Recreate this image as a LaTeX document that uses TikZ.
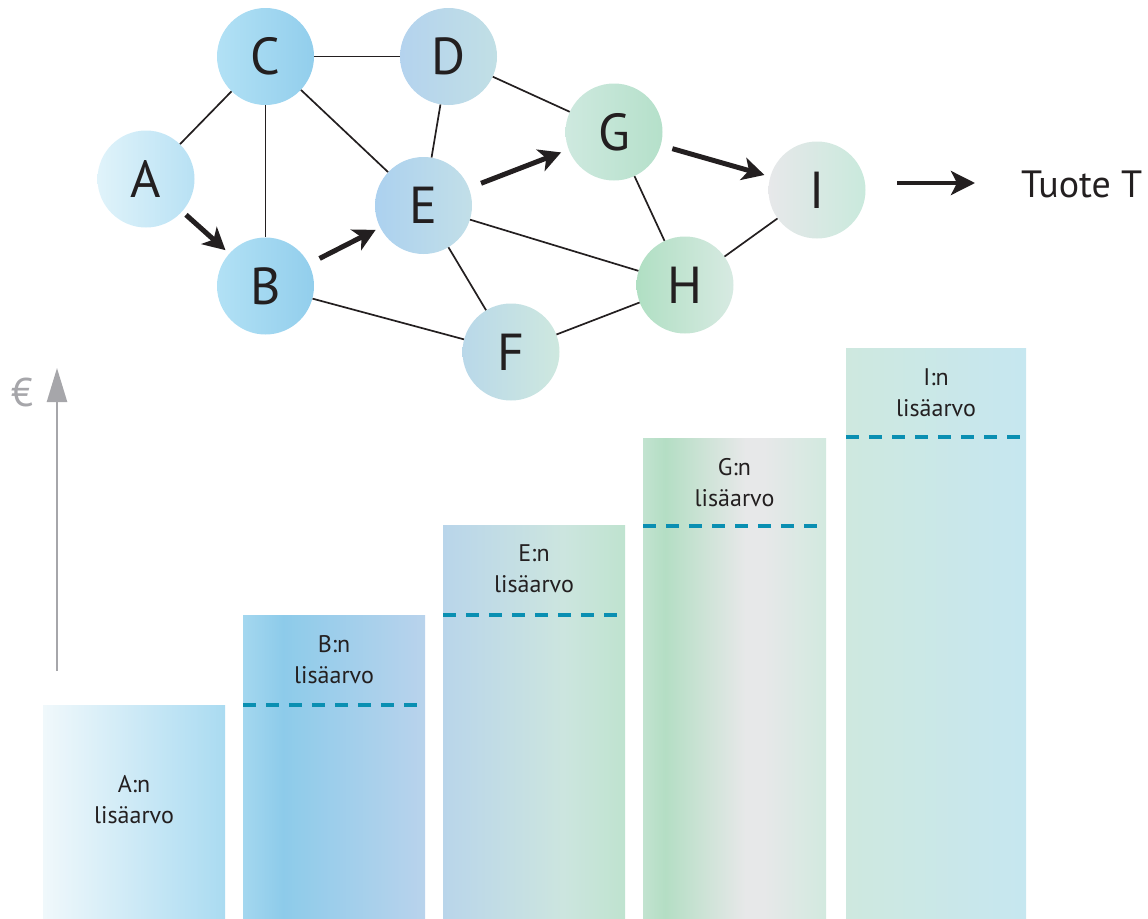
\documentclass[tikz,border=0pt]{standalone}
\usepackage{fontspec}
\setmainfont{PT Sans}
\usetikzlibrary{arrows.meta}

% palette
\definecolor{ink}{HTML}{231F20}
\definecolor{axisgray}{HTML}{A6A6AA}
\definecolor{dashblue}{HTML}{0A8FB2}

% node fills (left / right)
\definecolor{nAl}{HTML}{E0F3FA}\definecolor{nAr}{HTML}{B8E1F4}
\definecolor{nBl}{HTML}{B2E1F5}\definecolor{nBr}{HTML}{92CEEC}
\definecolor{nDl}{HTML}{B4D3EE}\definecolor{nDr}{HTML}{C1DFE5}
\definecolor{nEl}{HTML}{ACD1EF}\definecolor{nEr}{HTML}{C2DFE8}
\definecolor{nFl}{HTML}{B9D8E9}\definecolor{nFr}{HTML}{CEE8DF}
\definecolor{nGl}{HTML}{CEE9DF}\definecolor{nGr}{HTML}{B5E0CA}
\definecolor{nHl}{HTML}{B0DFC3}\definecolor{nHr}{HTML}{D7EAE2}
\definecolor{nIl}{HTML}{E7E8EA}\definecolor{nIr}{HTML}{C9E9DC}

% bar fills
\definecolor{bAa}{HTML}{F0F8FB}\definecolor{bAb}{HTML}{AADBF1}
\definecolor{bBa}{HTML}{A4D7EF}\definecolor{bBb}{HTML}{8DCBEA}\definecolor{bBc}{HTML}{B9D3EC}
\definecolor{bEa}{HTML}{B9D5EA}\definecolor{bEb}{HTML}{CCE5DF}\definecolor{bEc}{HTML}{BFE3CF}
\definecolor{bGa}{HTML}{C2E3D0}\definecolor{bGb}{HTML}{B4DEC4}\definecolor{bGc}{HTML}{E7E8E9}\definecolor{bGd}{HTML}{D2E9DF}
\definecolor{bIa}{HTML}{CEE8DF}\definecolor{bIb}{HTML}{C6E7F0}

% horizontal shadings: 25bp = left edge, 75bp = right edge
\pgfdeclarehorizontalshading{barA}{100bp}{color(0bp)=(bAa); color(25bp)=(bAa); color(75bp)=(bAb); color(100bp)=(bAb)}
\pgfdeclarehorizontalshading{barB}{100bp}{color(0bp)=(bBa); color(25bp)=(bBa); color(36bp)=(bBb); color(75bp)=(bBc); color(100bp)=(bBc)}
\pgfdeclarehorizontalshading{barE}{100bp}{color(0bp)=(bEa); color(25bp)=(bEa); color(58bp)=(bEb); color(75bp)=(bEc); color(100bp)=(bEc)}
\pgfdeclarehorizontalshading{barG}{100bp}{color(0bp)=(bGa); color(25bp)=(bGa); color(31bp)=(bGb); color(53bp)=(bGc); color(58bp)=(bGc); color(75bp)=(bGd); color(100bp)=(bGd)}
\pgfdeclarehorizontalshading{barI}{100bp}{color(0bp)=(bIa); color(25bp)=(bIa); color(75bp)=(bIb); color(100bp)=(bIb)}

\tikzset{
  gnode/.style={circle, minimum size=97pt, inner sep=0pt, text=ink,
    font=\fontsize{52}{52}\selectfont},
  edge/.style={draw=ink, line width=1.7pt},
  flow/.style={draw=ink, line width=5pt,
    -{Stealth[length=22pt,width=23pt,inset=6pt]}},
  outflow/.style={draw=ink, line width=4pt,
    -{Stealth[length=24pt,width=24pt,inset=6pt]}},
  barlabel/.style={align=center, text=ink, inner sep=0pt,
    font=\fontsize{24}{31}\selectfont},
  level/.style={draw=dashblue, line width=4pt, dash pattern=on 13pt off 10pt},
  euroaxis/.style={draw=axisgray, line width=2.4pt,
    -{Triangle[length=34pt,width=20pt]}}
}

\begin{document}
\begin{tikzpicture}[x=1pt,y=-1pt]
\useasboundingbox (0,0) rectangle (1148,918);

% ---------- network ----------
\node[gnode, left color=nAl, right color=nAr] (A) at (146,179) {A};
\node[gnode, left color=nBl, right color=nBr] (C) at (265.5,56.5) {C};
\node[gnode, left color=nDl, right color=nDr] (D) at (448.5,56.5) {D};
\node[gnode, left color=nBl, right color=nBr] (B) at (265.5,286) {B};
\node[gnode, left color=nEl, right color=nEr] (E) at (423.5,205.5) {E};
\node[gnode, left color=nFl, right color=nFr] (F) at (511,352) {F};
\node[gnode, left color=nGl, right color=nGr] (G) at (614,132) {G};
\node[gnode, left color=nHl, right color=nHr] (H) at (685,285) {H};
\node[gnode, left color=nIl, right color=nIr] (I) at (817,190) {I};

\draw[edge] (A) -- (C);
\draw[edge] (C) -- (D);
\draw[edge] (C) -- (B);
\draw[edge] (C) -- (E);
\draw[edge] (D) -- (E);
\draw[edge] (D) -- (G);
\draw[edge] (E) -- (H);
\draw[edge] (E) -- (F);
\draw[edge] (B) -- (F);
\draw[edge] (F) -- (H);
\draw[edge] (G) -- (H);
\draw[edge] (H) -- (I);

% value chain
\draw[flow, shorten <=5pt, shorten >=5pt] (A) -- (B);
\draw[flow, shorten <=12pt, shorten >=5pt] (B) -- (E);
\draw[flow, shorten <=13pt, shorten >=8pt] (E) -- (G);
\draw[flow, shorten <=12pt, shorten >=6pt] (G) -- (I);

\coordinate (tstart) at (897,183);
\coordinate (tend) at (975,183);
\draw[outflow] (tstart) -- (tend);
\node[anchor=base west, inner sep=0pt, text=ink,
  font=\fontsize{38}{38}\selectfont] (tuote) at (1021,197) {Tuote T};

% ---------- value axis ----------
\coordinate (axbot) at (57,671);
\coordinate (axtop) at (57,368);
\draw[euroaxis] (axbot) -- (axtop);
\node[text=axisgray, inner sep=0pt, font=\fontsize{40}{40}\selectfont]
  (euro) at (22,392) {€};

% ---------- bars ----------
\shade[shading=barA] (43,705) rectangle (225,918);
\shade[shading=barB] (243,615) rectangle (425,918);
\shade[shading=barE] (443,525) rectangle (625,918);
\shade[shading=barG] (643,438) rectangle (826,918);
\shade[shading=barI] (846,348) rectangle (1026,918);

\draw[level] (243,705) -- (425,705);
\draw[level] (443,615) -- (625,615);
\draw[level] (643,526) -- (826,526);
\draw[level] (846,437) -- (1026,437);

\node[barlabel] (labA) at (134,799.5) {A:n\\lisäarvo};
\node[barlabel] (labB) at (334,659.5) {B:n\\lisäarvo};
\node[barlabel] (labE) at (534,568.5) {E:n\\lisäarvo};
\node[barlabel] (labG) at (734.5,482.5) {G:n\\lisäarvo};
\node[barlabel] (labI) at (936,392.5) {I:n\\lisäarvo};
\end{tikzpicture}
\end{document}
